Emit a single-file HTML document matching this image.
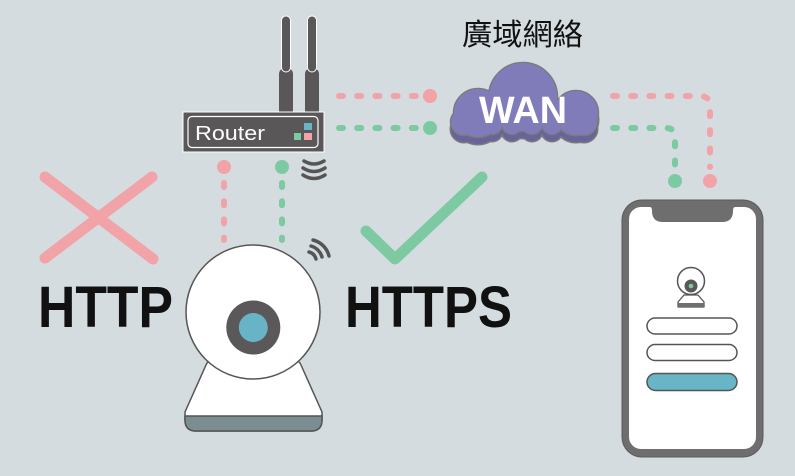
<!DOCTYPE html>
<html><head><meta charset="utf-8"><style>
html,body{margin:0;padding:0;background:#d4dcdf;}
svg{display:block;}
</style></head><body>
<svg width="795" height="476" viewBox="0 0 795 476" xmlns="http://www.w3.org/2000/svg">
<rect width="795" height="476" fill="#d4dcdf"/>

<!-- X -->
<g stroke="#f2a3a7" stroke-width="11" stroke-linecap="round">
<line x1="45" y1="177" x2="153" y2="259"/>
<line x1="152" y1="177" x2="45" y2="258"/>
</g>
<!-- check -->
<polyline points="366,231 395,259 482,177" fill="none" stroke="#7dcaa2" stroke-width="11" stroke-linecap="round" stroke-linejoin="round"/>

<!-- texts -->
<text x="38" y="327" font-family="Liberation Sans, Arial, sans-serif" font-weight="bold" font-size="58" fill="#111" textLength="135" lengthAdjust="spacingAndGlyphs">HTTP</text>
<text x="345" y="327" font-family="Liberation Sans, Arial, sans-serif" font-weight="bold" font-size="58" fill="#111" textLength="167" lengthAdjust="spacingAndGlyphs">HTTPS</text>
<text x="462" y="45" font-family="Liberation Sans, 'Noto Sans CJK TC', sans-serif" font-size="30" fill="#111" textLength="121" lengthAdjust="spacingAndGlyphs">廣域網絡</text>

<!-- dotted lines -->
<g fill="none" stroke-width="6" stroke-linecap="round" stroke-dasharray="4 14.2">
<path d="M339,96 L417,96" stroke="#f2a3a7"/>
<path d="M339,128 L417,128" stroke="#7dcaa2"/>
<path d="M224,183 L224,240" stroke="#f2a3a7"/>
<path d="M282,183 L282,240" stroke="#7dcaa2"/>
<path d="M613,96 L700,96 Q710,96 710,106 L710,167" stroke="#f2a3a7"/>
<path d="M613,128 L666,128 Q675,128 675,137 L675,167" stroke="#7dcaa2"/>
</g>
<circle cx="430" cy="96" r="7" fill="#f2a3a7"/>
<circle cx="430" cy="128" r="7" fill="#7dcaa2"/>
<circle cx="224" cy="167" r="7" fill="#f2a3a7"/>
<circle cx="282" cy="167" r="7" fill="#7dcaa2"/>
<circle cx="710" cy="181" r="7" fill="#f2a3a7"/>
<circle cx="675" cy="181" r="7" fill="#7dcaa2"/>

<!-- antennas -->
<rect x="279" y="68" width="14" height="48" rx="6" fill="#5a5758"/>
<rect x="305" y="68" width="14" height="48" rx="6" fill="#5a5758"/>
<rect x="281.5" y="16" width="9" height="56" rx="4.5" fill="#5a5758" stroke="#fff" stroke-width="1"/>
<rect x="307.5" y="16" width="9" height="56" rx="4.5" fill="#5a5758" stroke="#fff" stroke-width="1"/>
<!-- router -->
<rect x="183" y="112" width="141" height="40" fill="#5a5758" stroke="#fff" stroke-width="1"/>
<rect x="188" y="116.5" width="130" height="31" rx="4" fill="none" stroke="#fff" stroke-width="1.2"/>
<text x="195" y="140" font-family="Liberation Sans, Arial, sans-serif" font-size="20" fill="#fff" textLength="70" lengthAdjust="spacingAndGlyphs">Router</text>
<rect x="304" y="123" width="8" height="7" fill="#67b5c7"/>
<rect x="294" y="133" width="7" height="7" fill="#7dcaa2"/>
<rect x="304" y="133" width="8" height="7" fill="#f2a3a7"/>
<!-- router wifi -->
<g fill="none" stroke="#555" stroke-width="3.5" stroke-linecap="round">
<path d="M304,161 Q314,167 324,161"/>
<path d="M303,168 Q314,175 325,168"/>
<path d="M303,175 Q314,182 325,175"/>
</g>

<!-- cloud shadow -->
<g transform="translate(0,7)">
<g fill="#7a7a7a" stroke="#7a7a7a" stroke-width="3">
<circle cx="523" cy="97" r="34"/><circle cx="478" cy="113" r="24"/><circle cx="464" cy="122" r="13"/>
<circle cx="576" cy="113" r="22"/><circle cx="584" cy="122" r="13"/>
<rect x="462" y="100" width="126" height="26"/>
<circle cx="472" cy="124" r="10"/><circle cx="492" cy="124" r="10"/><circle cx="512" cy="124" r="10"/><circle cx="532" cy="124" r="10"/><circle cx="552" cy="124" r="10"/><circle cx="572" cy="124" r="10"/>
</g>
<g fill="#68649a">
<circle cx="523" cy="97" r="34"/><circle cx="478" cy="113" r="24"/><circle cx="464" cy="122" r="13"/>
<circle cx="576" cy="113" r="22"/><circle cx="584" cy="122" r="13"/>
<rect x="462" y="100" width="126" height="26"/>
<circle cx="472" cy="124" r="10"/><circle cx="492" cy="124" r="10"/><circle cx="512" cy="124" r="10"/><circle cx="532" cy="124" r="10"/><circle cx="552" cy="124" r="10"/><circle cx="572" cy="124" r="10"/>
</g>
</g>
<!-- cloud main -->
<g fill="#7a7a7a" stroke="#7a7a7a" stroke-width="2.5">
<circle cx="523" cy="97" r="34"/><circle cx="478" cy="113" r="24"/><circle cx="464" cy="122" r="13"/>
<circle cx="576" cy="113" r="22"/><circle cx="584" cy="122" r="13"/>
<rect x="462" y="100" width="126" height="26"/>
<circle cx="472" cy="124" r="10"/><circle cx="492" cy="124" r="10"/><circle cx="512" cy="124" r="10"/><circle cx="532" cy="124" r="10"/><circle cx="552" cy="124" r="10"/><circle cx="572" cy="124" r="10"/>
</g>
<g fill="#807cb9">
<circle cx="523" cy="97" r="34"/><circle cx="478" cy="113" r="24"/><circle cx="464" cy="122" r="13"/>
<circle cx="576" cy="113" r="22"/><circle cx="584" cy="122" r="13"/>
<rect x="462" y="100" width="126" height="26"/>
<circle cx="472" cy="124" r="10"/><circle cx="492" cy="124" r="10"/><circle cx="512" cy="124" r="10"/><circle cx="532" cy="124" r="10"/><circle cx="552" cy="124" r="10"/><circle cx="572" cy="124" r="10"/>
</g>
<text x="479" y="123" font-family="Liberation Sans, Arial, sans-serif" font-weight="bold" font-size="38" fill="#fff" textLength="88" lengthAdjust="spacingAndGlyphs">WAN</text>

<!-- camera -->
<path d="M213,360 L294,360 Q299,360 301,365 L322,412 L322,420 Q322,431 311,431 L196,431 Q185,431 185,420 L185,412 L206,365 Q208,360 213,360 Z" fill="#fff" stroke="#555" stroke-width="1.5"/>
<path d="M185,416 L322,416 L322,420 Q322,431 311,431 L196,431 Q185,431 185,420 Z" fill="#7a8d90" stroke="#555" stroke-width="1.5"/>
<circle cx="253" cy="312" r="67" fill="#fff" stroke="#555" stroke-width="1.5"/>
<circle cx="253.3" cy="327.5" r="27" fill="#5b5859"/>
<circle cx="253.3" cy="327.5" r="14.5" fill="#68b4c6"/>
<!-- camera wifi -->
<g fill="none" stroke="#555" stroke-width="3.5" stroke-linecap="round">
<path d="M309,252 A10,10 0 0 1 316,259"/>
<path d="M311,246 A16,16 0 0 1 322,257"/>
<path d="M313,240 A22,22 0 0 1 329,256"/>
</g>

<!-- phone -->
<rect x="622" y="200" width="141" height="257" rx="20" fill="#6e6e6e" stroke="#5a5a5a" stroke-width="1"/>
<rect x="629" y="207" width="127" height="242" rx="12" fill="#fff"/>
<path d="M650,207 Q652,207 652,211 Q652,222 663,222 L722,222 Q733,222 733,211 Q733,207 735,207 Z" fill="#6e6e6e"/>
<!-- mini cam -->
<path d="M684,295 L698,295 L704,302 L704,307 L678,307 L678,302 Z" fill="#fff" stroke="#555" stroke-width="1.3" stroke-linejoin="round"/>
<rect x="678" y="303" width="26" height="4" fill="#6e6e6e"/>
<circle cx="691" cy="281" r="13.5" fill="#fff" stroke="#555" stroke-width="1.5"/>
<circle cx="691" cy="286" r="6.5" fill="#5b5859"/>
<circle cx="691" cy="286" r="2.3" fill="#7dcaa2"/>
<rect x="647" y="318" width="90" height="16" rx="8" fill="#fff" stroke="#555" stroke-width="1.5"/>
<rect x="647" y="344.5" width="90" height="16" rx="8" fill="#fff" stroke="#555" stroke-width="1.5"/>
<rect x="647" y="373.5" width="90" height="17" rx="8.5" fill="#67b5c7" stroke="#555" stroke-width="1.5"/>
</svg>
</body></html>
